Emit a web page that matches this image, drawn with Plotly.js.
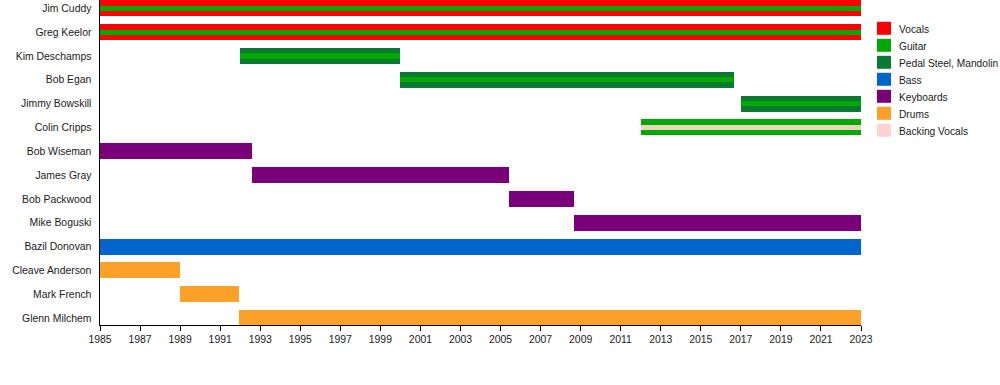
<!DOCTYPE html>
<html>
<head>
<meta charset="utf-8">
<script src="https://cdn.plot.ly/plotly-3.0.1.min.js"></script>
<style>
  html, body { margin: 0; padding: 0; background: #fff; }
  #chart { width: 1000px; height: 385px; }
</style>
</head>
<body>
<div id="chart"></div>
<script>
// ---- data ----
const members = ["Jim Cuddy", "Greg Keelor", "Kim Deschamps", "Bob Egan", "Jimmy Bowskill",
  "Colin Cripps", "Bob Wiseman", "James Gray", "Bob Packwood", "Mike Boguski",
  "Bazil Donovan", "Cleave Anderson", "Mark French", "Glenn Milchem"];
const startYear = [1985, 1985, 1992, 2000, 2017, 2012, 1985, 1992.6, 2005.4, 2008.65, 1985, 1985, 1989, 1991.95];
const endYear   = [2023, 2023, 2000, 2016.65, 2023, 2023, 1992.6, 2005.4, 2008.65, 2023, 2023, 1989, 1991.95, 2023];
const mainRole  = ["Vocals", "Vocals", "Pedal Steel, Mandolin", "Pedal Steel, Mandolin", "Pedal Steel, Mandolin",
  "Guitar", "Keyboards", "Keyboards", "Keyboards", "Keyboards", "Bass", "Drums", "Drums", "Drums"];
const extraRole = ["Guitar", "Guitar", "Guitar", "Guitar", "Guitar", "Backing Vocals",
  null, null, null, null, null, null, null, null];
const roles = ["Vocals", "Guitar", "Pedal Steel, Mandolin", "Bass", "Keyboards", "Drums", "Backing Vocals"];
const tickYears = [1985, 1987, 1989, 1991, 1993, 1995, 1997, 1999, 2001, 2003, 2005, 2007,
  2009, 2011, 2013, 2015, 2017, 2019, 2021, 2023];

// ---- styles ----
const roleColor = {
  "Vocals": "#ff0000",
  "Guitar": "#00aa00",
  "Pedal Steel, Mandolin": "#0a7a33",
  "Bass": "#0066cc",
  "Keyboards": "#7a007a",
  "Drums": "#fba12a",
  "Backing Vocals": "#ffd2d2"
};
const stripeColor = Object.assign({}, roleColor, {"Backing Vocals": "#efd2bc"});
const FONT = "Liberation Sans, Arial, sans-serif";
const FS = 10.4, LEG_FS = 10.2;
const OUTER_W = 0.67, INNER_W = 0.21, BV_W = 0.17;

const traces = [];
function addLayer(roleArr, inner) {
  roles.forEach(role => {
    const ys = [], xs = [], bs = [];
    members.forEach((m, i) => {
      if (roleArr[i] === role) {
        ys.push(i); xs.push(endYear[i] - startYear[i]); bs.push(startYear[i]);
      }
    });
    if (!ys.length) return;
    const w = inner ? (role === "Backing Vocals" ? BV_W : INNER_W) : OUTER_W;
    traces.push({
      type: "bar", orientation: "h", y: ys, x: xs, base: bs,
      width: ys.map(() => w),
      marker: { color: inner ? stripeColor[role] : roleColor[role], line: { width: 0 } },
      hoverinfo: "skip", showlegend: false, name: role
    });
  });
}
addLayer(mainRole, false);
addLayer(extraRole, true);

// ---- legend (manual, pixel sized) ----
const shapes = [], annotations = [];
const plotH = 325, legTop = 28.3, legStep = 17;
roles.forEach((role, k) => {
  const cy = 1 - (legTop + k * legStep) / plotH;
  shapes.push({
    type: "rect", xref: "paper", yref: "paper",
    xsizemode: "pixel", ysizemode: "pixel",
    xanchor: 1.021, yanchor: cy, x0: 0, x1: 14, y0: -6.5, y1: 6.5,
    fillcolor: roleColor[role], line: { width: 0 }
  });
  annotations.push({
    xref: "paper", yref: "paper", x: 1.0475, y: cy - 1.5 / plotH, xanchor: "left", yanchor: "middle",
    text: role, showarrow: false, font: { family: FONT, size: LEG_FS, color: "#1a1a1a" }
  });
});

const layout = {
  width: 1000, height: 385,
  margin: { l: 100, r: 139, t: 0, b: 60, pad: 0 },
  paper_bgcolor: "#ffffff", plot_bgcolor: "#ffffff",
  barmode: "overlay", bargap: 0,
  showlegend: false,
  font: { family: FONT, size: FS, color: "#1a1a1a" },
  xaxis: {
    range: [1985, 2023], tickmode: "array", tickvals: tickYears, ticktext: tickYears.map(String),
    showgrid: false, zeroline: false, showline: true, linecolor: "#000", linewidth: 1,
    ticks: "outside", ticklen: 5, tickcolor: "#000", tickwidth: 1,
    tickfont: { family: FONT, size: FS, color: "#1a1a1a" }, fixedrange: true
  },
  yaxis: {
    range: [13.29, -0.35], tickmode: "array", tickvals: members.map((m, i) => i), ticktext: members,
    showgrid: false, zeroline: false, showline: true, linecolor: "#000", linewidth: 1.5,
    ticks: "", ticklabelstandoff: 5,
    tickfont: { family: FONT, size: FS, color: "#1a1a1a" }, fixedrange: true
  },
  shapes: shapes,
  annotations: annotations
};

Plotly.newPlot("chart", traces, layout, { staticPlot: true, displayModeBar: false });
</script>
</body>
</html>
